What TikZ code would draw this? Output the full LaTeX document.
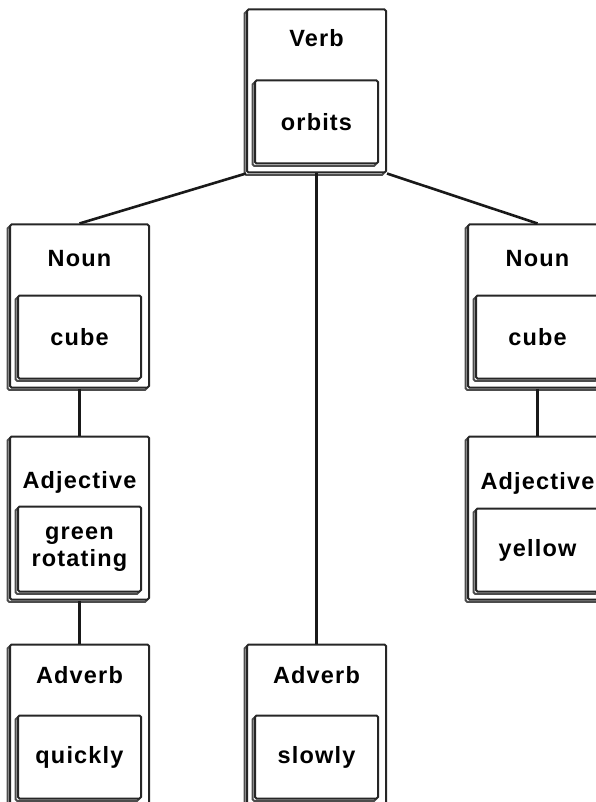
\documentclass[tikz,border=0pt]{standalone}
\usepackage{fontspec}
\setmainfont{Liberation Sans}[LetterSpace=5]
\usepackage{tikz}
\usetikzlibrary{positioning, shadows, calc}
\tikzset{
  wordbox/.style={rectangle, draw=black!85, fill=white, line width=2pt,
                  rounded corners=1.5pt, minimum width=139pt, minimum height=163pt,
                  inner sep=0pt,
                  copy shadow={shadow xshift=-2.4pt, shadow yshift=-2.4pt, draw=black!70}},
  wordinner/.style={rectangle, draw=black!85, fill=white, line width=2pt,
                  rounded corners=1.5pt, minimum width=123pt, minimum height=83pt,
                  inner sep=0pt, align=center, font=\bfseries\fontsize{23.5}{27}\selectfont,
                  copy shadow={shadow xshift=-2.4pt, shadow yshift=-2.4pt, draw=black!70}},
  wordtag/.style={anchor=base, inner sep=0pt, font=\bfseries\fontsize{23.5}{27}\selectfont},
  link/.style={draw=black!90, line width=2.6pt},
}

\begin{document}
\begin{tikzpicture}[node distance=50pt and 96pt]
  \useasboundingbox (0pt,0pt) rectangle (595pt,-802pt);

  % the verb at the root
  \node[wordbox] (verb) at (316.5pt,-91pt) {};
  \node[wordtag] (verb-tag) at ([yshift=-38pt]verb.north) {Verb};
  \node[wordinner, anchor=south] (verb-word) at ([yshift=9pt]verb.south) {orbits};

  % left branch
  \node[wordbox, below left=50pt and 96pt of verb] (nounL) {};
  \node[wordtag] (nounL-tag) at ([yshift=-43pt]nounL.north) {Noun};
  \node[wordinner, anchor=south] (nounL-word) at ([yshift=9pt]nounL.south) {cube};

  \node[wordbox, below=47pt of nounL] (adjL) {};
  \node[wordtag] (adjL-tag) at ([yshift=-53pt]adjL.north) {Adjective};
  \node[wordinner, anchor=south, minimum height=85pt] (adjL-word) at ([yshift=8pt]adjL.south) {green\\rotating};

  \node[wordbox, below=43pt of adjL] (advL) {};
  \node[wordtag] (advL-tag) at ([yshift=-40pt]advL.north) {Adverb};
  \node[wordinner, anchor=south] (advL-word) at ([yshift=9pt]advL.south) {quickly};

  % middle branch
  \node[wordbox] (advM) at (verb |- advL) {};
  \node[wordtag] (advM-tag) at ([yshift=-40pt]advM.north) {Adverb};
  \node[wordinner, anchor=south] (advM-word) at ([yshift=9pt]advM.south) {slowly};

  % right branch
  \node[wordbox, below right=50pt and 80pt of verb] (nounR) {};
  \node[wordtag] (nounR-tag) at ([yshift=-43pt]nounR.north) {Noun};
  \node[wordinner, anchor=south] (nounR-word) at ([yshift=9pt]nounR.south) {cube};

  \node[wordbox, below=47pt of nounR] (adjR) {};
  \node[wordtag] (adjR-tag) at ([yshift=-54pt]adjR.north) {Adjective};
  \node[wordinner, anchor=south] (adjR-word) at ([yshift=8pt]adjR.south) {yellow};

  % links of the tree
  \draw[link] (verb.south west) -- (nounL.north);
  \draw[link] (verb.south) -- (advM.north);
  \draw[link] (verb.south east) -- (nounR.north);
  \draw[link] (nounL.south) -- (adjL.north);
  \draw[link] (adjL.south) -- (advL.north);
  \draw[link] (nounR.south) -- (adjR.north);
\end{tikzpicture}
\end{document}
